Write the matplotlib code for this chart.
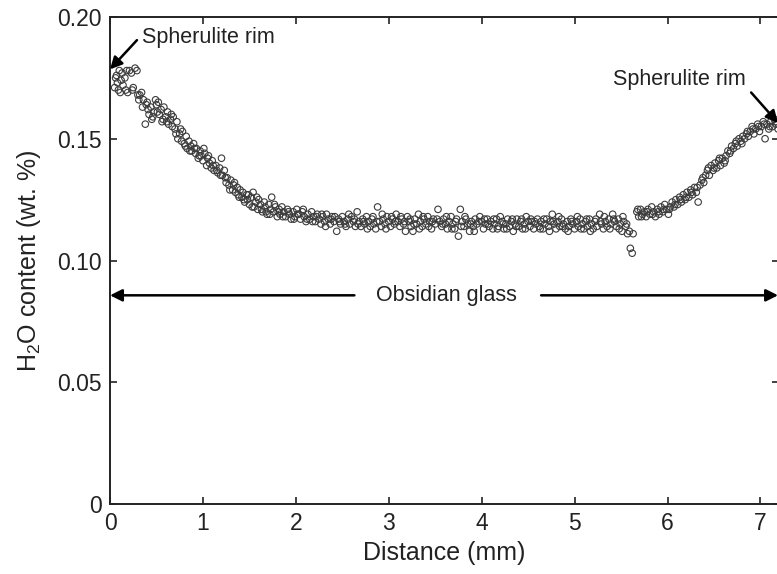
import matplotlib

matplotlib.use("Agg")
import matplotlib.pyplot as plt
import numpy as np

plt.rcParams["font.family"] = ["Liberation Sans", "DejaVu Sans"]
plt.rcParams["mathtext.fontset"] = "custom"
plt.rcParams["mathtext.rm"] = "Liberation Sans"

# (distance mm, H2O wt.%), left rim -> right rim
left_rim = [
    (0.05, 0.171), (0.07, 0.176), (0.08, 0.173), (0.10, 0.178), (0.11, 0.169),
    (0.13, 0.177), (0.14, 0.172), (0.16, 0.175), (0.17, 0.170), (0.19, 0.169),
    (0.21, 0.178), (0.23, 0.177), (0.25, 0.171), (0.27, 0.179), (0.29, 0.178),
    (0.30, 0.168), (0.32, 0.168), (0.34, 0.169), (0.36, 0.166), (0.38, 0.156),
    (0.39, 0.164), (0.41, 0.162), (0.42, 0.160), (0.44, 0.163), (0.45, 0.158),
    (0.47, 0.161), (0.49, 0.166), (0.50, 0.164), (0.52, 0.165), (0.53, 0.160),
    (0.55, 0.162), (0.57, 0.158), (0.58, 0.163), (0.60, 0.159), (0.62, 0.161),
    (0.63, 0.156), (0.65, 0.158), (0.67, 0.155), (0.68, 0.159), (0.70, 0.154),
    (0.72, 0.157), (0.73, 0.150), (0.75, 0.152), (0.77, 0.149), (0.78, 0.153),
    (0.80, 0.148), (0.82, 0.151), (0.83, 0.146), (0.85, 0.149), (0.87, 0.147),
    (0.88, 0.145), (0.90, 0.148), (0.92, 0.144), (0.93, 0.146), (0.95, 0.142),
    (0.97, 0.145), (0.98, 0.143), (1.00, 0.141),
]
left_slope = [
    (1.02, 0.144), (1.04, 0.139), (1.05, 0.142), (1.07, 0.140), (1.09, 0.138),
    (1.10, 0.141), (1.12, 0.137), (1.14, 0.139), (1.16, 0.136), (1.18, 0.138),
    (1.20, 0.142), (1.21, 0.135), (1.23, 0.137), (1.25, 0.132), (1.26, 0.134),
    (1.28, 0.131), (1.30, 0.133), (1.32, 0.129), (1.33, 0.131), (1.35, 0.128),
    (1.37, 0.130), (1.38, 0.127), (1.40, 0.129), (1.42, 0.126), (1.43, 0.128),
    (1.45, 0.124), (1.47, 0.127), (1.48, 0.125), (1.50, 0.123), (1.52, 0.126),
    (1.54, 0.128), (1.55, 0.122), (1.57, 0.124), (1.59, 0.121), (1.60, 0.125),
    (1.62, 0.123), (1.64, 0.120), (1.66, 0.124), (1.67, 0.122), (1.69, 0.119),
    (1.71, 0.123), (1.73, 0.121), (1.74, 0.126), (1.76, 0.120), (1.78, 0.122),
    (1.80, 0.118), (1.82, 0.121), (1.83, 0.119), (1.85, 0.122), (1.87, 0.120),
]
plateau_a = [
    (1.89, 0.118), (1.91, 0.121), (1.93, 0.119), (1.95, 0.117), (1.97, 0.120),
    (1.99, 0.118), (2.01, 0.121), (2.03, 0.119), (2.05, 0.117), (2.07, 0.120),
    (2.09, 0.118), (2.11, 0.116), (2.13, 0.119), (2.15, 0.117), (2.17, 0.120),
    (2.19, 0.118), (2.21, 0.116), (2.23, 0.119), (2.25, 0.117), (2.27, 0.115),
    (2.29, 0.118), (2.31, 0.116), (2.33, 0.119), (2.35, 0.117), (2.37, 0.115),
    (2.39, 0.118), (2.41, 0.116), (2.44, 0.112), (2.46, 0.117), (2.48, 0.115),
    (2.50, 0.118), (2.52, 0.116), (2.54, 0.114), (2.56, 0.117), (2.58, 0.115),
    (2.60, 0.118), (2.62, 0.116), (2.64, 0.114), (2.66, 0.120), (2.68, 0.116),
    (2.70, 0.114), (2.72, 0.117), (2.74, 0.115), (2.76, 0.118), (2.78, 0.116),
    (2.80, 0.114), (2.82, 0.117), (2.84, 0.115), (2.86, 0.113), (2.88, 0.122),
    (2.90, 0.116), (2.92, 0.114), (2.94, 0.117), (2.96, 0.115), (2.98, 0.118),
    (3.00, 0.116), (3.02, 0.114), (3.04, 0.117), (3.06, 0.115), (3.08, 0.119),
    (3.10, 0.116), (3.12, 0.114), (3.14, 0.117), (3.16, 0.115), (3.18, 0.112),
    (3.20, 0.118), (3.22, 0.116), (3.24, 0.114), (3.26, 0.112), (3.28, 0.117),
    (3.30, 0.115), (3.32, 0.119), (3.34, 0.116), (3.36, 0.114), (3.38, 0.117),
    (3.40, 0.115), (3.42, 0.118), (3.44, 0.116), (3.46, 0.113), (3.48, 0.117),
    (3.50, 0.115), (3.53, 0.121), (3.55, 0.116), (3.57, 0.114), (3.59, 0.117),
    (3.61, 0.115), (3.63, 0.113), (3.65, 0.116), (3.67, 0.118),
]
plateau_b = [
    (3.69, 0.115), (3.71, 0.113), (3.73, 0.117), (3.75, 0.110), (3.77, 0.121),
    (3.79, 0.116), (3.81, 0.114), (3.83, 0.117), (3.85, 0.115), (3.87, 0.112),
    (3.89, 0.116), (3.91, 0.114), (3.93, 0.117), (3.95, 0.115), (3.98, 0.118),
    (4.00, 0.116), (4.02, 0.113), (4.04, 0.115), (4.06, 0.117), (4.08, 0.114),
    (4.10, 0.116), (4.12, 0.113), (4.14, 0.115), (4.16, 0.117), (4.18, 0.114),
    (4.20, 0.118), (4.22, 0.116), (4.24, 0.113), (4.26, 0.115), (4.28, 0.117),
    (4.30, 0.114), (4.32, 0.116), (4.34, 0.112), (4.36, 0.115), (4.38, 0.117),
    (4.40, 0.114), (4.42, 0.116), (4.44, 0.113), (4.46, 0.115), (4.48, 0.118),
    (4.50, 0.116), (4.52, 0.114), (4.54, 0.116), (4.56, 0.113), (4.58, 0.115),
    (4.60, 0.117), (4.62, 0.114), (4.64, 0.116), (4.66, 0.113), (4.68, 0.115),
    (4.70, 0.117), (4.72, 0.114), (4.74, 0.116), (4.76, 0.119), (4.78, 0.115),
    (4.80, 0.113), (4.82, 0.116), (4.84, 0.114), (4.86, 0.117), (4.88, 0.115),
    (4.90, 0.113), (4.92, 0.116), (4.94, 0.114), (4.96, 0.117), (4.98, 0.115),
    (5.00, 0.113), (5.02, 0.116), (5.04, 0.114), (5.06, 0.117), (5.08, 0.115),
    (5.10, 0.113), (5.12, 0.116), (5.14, 0.114), (5.16, 0.117), (5.18, 0.115),
    (5.20, 0.113), (5.22, 0.116), (5.24, 0.114), (5.27, 0.119), (5.29, 0.115),
    (5.31, 0.113), (5.33, 0.116), (5.35, 0.114), (5.37, 0.117), (5.39, 0.115),
    (5.41, 0.119), (5.43, 0.116), (5.45, 0.114), (5.47, 0.117), (5.49, 0.115),
    (5.51, 0.112), (5.53, 0.116), (5.55, 0.114), (5.57, 0.111), (5.59, 0.112),
    (5.60, 0.105), (5.62, 0.103), (5.63, 0.111),
]
right_rim = [
    (5.67, 0.120), (5.69, 0.118), (5.71, 0.121), (5.73, 0.119), (5.75, 0.120),
    (5.77, 0.118), (5.79, 0.121), (5.81, 0.119), (5.83, 0.122), (5.85, 0.120),
    (5.87, 0.118), (5.89, 0.121), (5.91, 0.119), (5.93, 0.122), (5.95, 0.120),
    (5.97, 0.123), (5.99, 0.121), (6.01, 0.119), (6.03, 0.122), (6.05, 0.124),
    (6.07, 0.122), (6.09, 0.125), (6.11, 0.123), (6.13, 0.126), (6.15, 0.124),
    (6.17, 0.127), (6.19, 0.125), (6.21, 0.128), (6.23, 0.126), (6.25, 0.129),
    (6.27, 0.127), (6.29, 0.130), (6.31, 0.128), (6.33, 0.124), (6.35, 0.131),
    (6.37, 0.133), (6.39, 0.132), (6.41, 0.135), (6.43, 0.137), (6.45, 0.135),
    (6.47, 0.139), (6.49, 0.137), (6.51, 0.140), (6.53, 0.138), (6.55, 0.141),
    (6.57, 0.139), (6.59, 0.142), (6.61, 0.140), (6.63, 0.143), (6.65, 0.145),
    (6.67, 0.144), (6.69, 0.147), (6.71, 0.146), (6.73, 0.148), (6.75, 0.147),
    (6.77, 0.150), (6.79, 0.149), (6.81, 0.151), (6.83, 0.150), (6.85, 0.152),
    (6.87, 0.151), (6.89, 0.153), (6.91, 0.155), (6.93, 0.152), (6.95, 0.154),
    (6.97, 0.156), (6.99, 0.153), (7.01, 0.155), (7.03, 0.157), (7.05, 0.150),
    (7.07, 0.156), (7.09, 0.154), (7.11, 0.157), (7.13, 0.155), (7.15, 0.158),
    (7.17, 0.156), (7.19, 0.154),
]
# overlapping readings that thicken the band
second_scan = [
    (0.06, 0.175), (0.09, 0.170), (0.12, 0.174), (0.18, 0.178), (0.24, 0.170),
    (0.31, 0.166), (0.35, 0.163), (0.40, 0.165), (0.46, 0.159), (0.51, 0.161),
    (0.56, 0.157), (0.61, 0.157), (0.66, 0.160), (0.71, 0.152), (0.76, 0.154),
    (0.81, 0.147), (0.86, 0.145), (0.91, 0.146), (0.96, 0.143), (1.01, 0.146),
    (1.06, 0.143), (1.11, 0.139), (1.15, 0.137), (1.19, 0.135), (1.24, 0.134),
    (1.29, 0.129), (1.34, 0.132), (1.39, 0.126), (1.44, 0.125), (1.49, 0.127),
    (1.53, 0.122), (1.58, 0.126), (1.63, 0.121), (1.68, 0.120), (1.72, 0.119),
    (1.77, 0.123), (1.81, 0.120), (1.86, 0.118), (1.92, 0.120), (1.98, 0.117),
    (2.02, 0.119), (2.08, 0.121), (2.12, 0.117), (2.18, 0.116), (2.22, 0.118),
    (2.28, 0.119), (2.32, 0.114), (2.38, 0.117), (2.42, 0.118), (2.47, 0.116),
    (2.53, 0.115), (2.57, 0.119), (2.63, 0.117), (2.67, 0.115), (2.73, 0.116),
    (2.77, 0.113), (2.83, 0.118), (2.87, 0.116), (2.93, 0.119), (2.97, 0.113),
    (3.03, 0.118), (3.07, 0.116), (3.13, 0.118), (3.17, 0.116), (3.23, 0.117),
    (3.27, 0.115), (3.33, 0.113), (3.37, 0.118), (3.43, 0.114), (3.47, 0.116),
    (3.52, 0.117), (3.58, 0.115), (3.62, 0.118), (3.68, 0.113), (3.72, 0.116),
    (3.78, 0.114), (3.82, 0.118), (3.88, 0.115), (3.92, 0.112), (3.97, 0.116),
    (4.03, 0.117), (4.07, 0.115), (4.13, 0.117), (4.17, 0.113), (4.23, 0.115),
    (4.27, 0.113), (4.33, 0.117), (4.37, 0.114), (4.43, 0.117), (4.47, 0.113),
    (4.53, 0.117), (4.57, 0.116), (4.63, 0.113), (4.67, 0.117), (4.73, 0.112),
    (4.77, 0.116), (4.83, 0.118), (4.87, 0.114), (4.93, 0.112), (4.97, 0.116),
    (5.03, 0.118), (5.07, 0.113), (5.13, 0.117), (5.17, 0.112), (5.23, 0.117),
    (5.28, 0.116), (5.32, 0.118), (5.38, 0.113), (5.42, 0.117), (5.48, 0.113),
    (5.52, 0.118), (5.56, 0.115), (5.68, 0.121), (5.72, 0.118), (5.78, 0.120),
    (5.84, 0.119), (5.90, 0.120), (5.96, 0.121), (6.02, 0.121), (6.08, 0.123),
    (6.14, 0.125), (6.20, 0.126), (6.26, 0.128), (6.32, 0.130), (6.38, 0.134),
    (6.44, 0.138), (6.50, 0.138), (6.56, 0.142), (6.62, 0.141), (6.68, 0.145),
    (6.74, 0.149), (6.80, 0.148), (6.86, 0.153), (6.92, 0.154), (6.98, 0.155),
    (7.04, 0.156), (7.10, 0.155), (7.16, 0.157),
]

x_ticks = [0, 1, 2, 3, 4, 5, 6, 7]
y_ticks = [0, 0.05, 0.10, 0.15, 0.20]
y_tick_labels = ["0", "0.05", "0.10", "0.15", "0.20"]

profile = np.array(left_rim + left_slope + plateau_a + plateau_b + right_rim
                   + second_scan)

fig = plt.figure(figsize=(7.77, 5.74), dpi=100)
ax = fig.add_axes([110 / 777, 70 / 574, 669 / 777, 487 / 574])

ax.scatter(profile[:, 0], profile[:, 1], s=22, facecolors="none",
           edgecolors="#3c3c3c", linewidths=0.8, zorder=3)

ax.set_xlim(0, 7.2)
ax.set_ylim(0, 0.20)
ax.set_xticks(x_ticks)
ax.set_yticks(y_ticks)
ax.set_yticklabels(y_tick_labels)
ax.tick_params(direction="in", length=5, width=1.2, top=True, right=True,
               labelsize=16.5, colors="#222222", pad=6)
for s in ax.spines.values():
    s.set_linewidth(1.4)
    s.set_color("#222222")

ax.set_xlabel("Distance (mm)", fontsize=18, color="#222222", labelpad=4)
ax.set_ylabel("H$_2$O content (wt. %)", fontsize=18, color="#222222", labelpad=10)

arrow = dict(arrowstyle="-|>", color="black", lw=1.8, mutation_scale=18,
             shrinkA=0, shrinkB=0)
ax.annotate("", xy=(0.0, 0.1785), xytext=(0.29, 0.1905), arrowprops=arrow,
            annotation_clip=False)
ax.text(0.34, 0.1915, "Spherulite rim", fontsize=15.5, va="center", ha="left",
        color="#222222")
ax.annotate("", xy=(7.19, 0.1565), xytext=(6.90, 0.169), arrowprops=arrow,
            annotation_clip=False)
ax.text(6.84, 0.1745, "Spherulite rim", fontsize=15.5, va="center", ha="right",
        color="#222222")

ax.annotate("", xy=(0.0, 0.0857), xytext=(2.63, 0.0857), arrowprops=arrow,
            annotation_clip=False)
ax.annotate("", xy=(7.19, 0.0857), xytext=(4.64, 0.0857), arrowprops=arrow,
            annotation_clip=False)
ax.text(3.62, 0.0857, "Obsidian glass", fontsize=15.5, va="center", ha="center",
        color="#222222")

fig.savefig("out.png", dpi=100)
